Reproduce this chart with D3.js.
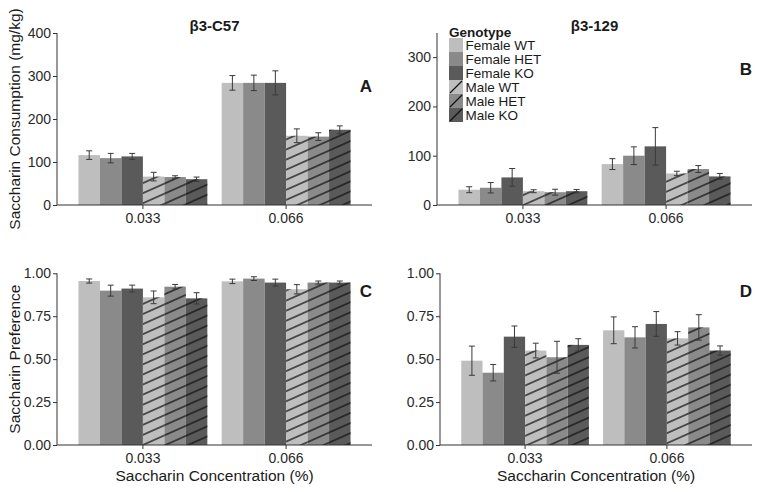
<!DOCTYPE html>
<html>
<head>
<meta charset="utf-8">
<script src="https://cdn.jsdelivr.net/npm/d3@7"></script>
<style>
  html, body { margin: 0; padding: 0; background: #fff; }
  svg { display: block; font-family: "Liberation Sans", Arial, sans-serif; }
</style>
</head>
<body>
<svg id="chart" width="762" height="492"></svg>
<script>
// ---------------- data ----------------
const concentrations = ["0.033", "0.066"];
const genotypes = ["Female WT", "Female HET", "Female KO", "Male WT", "Male HET", "Male KO"];

// Panel A: β3-C57 consumption (mg/kg) — rows: concentration, cols: genotype
const c57ConsMean = [[116, 109, 113, 66, 65, 60], [284, 284, 284, 161, 159, 175]];
const c57ConsErr  = [[10, 11, 7, 10, 3, 5], [17, 18, 28, 16, 9, 9]];
// Panel B: β3-129 consumption (mg/kg)
const b129ConsMean = [[31, 35, 56, 28, 26, 28], [83, 100, 119, 64, 73, 58]];
const b129ConsErr  = [[6, 10.5, 18, 3, 6, 3.5], [11, 18, 38, 4.5, 7, 6]];
// Panel C: β3-C57 preference
const c57PrefMean = [[0.955, 0.899, 0.911, 0.860, 0.922, 0.854], [0.953, 0.969, 0.946, 0.907, 0.946, 0.946]];
const c57PrefErr  = [[0.012, 0.032, 0.020, 0.037, 0.013, 0.033], [0.013, 0.011, 0.020, 0.027, 0.009, 0.009]];
// Panel D: β3-129 preference
const b129PrefMean = [[0.491, 0.421, 0.631, 0.550, 0.511, 0.583], [0.668, 0.627, 0.705, 0.621, 0.685, 0.550]];
const b129PrefErr  = [[0.085, 0.048, 0.062, 0.043, 0.093, 0.036], [0.078, 0.062, 0.072, 0.039, 0.074, 0.027]];

const consTicks = [0, 100, 200, 300, 400];
const consTicksB = [0, 100, 200, 300];
const prefTicks = [0, 0.25, 0.5, 0.75, 1.0];

// ---------------- styling ----------------
const fillColors = ["#bebebe", "#8a8a8a", "#5a5a5a", "#bebebe", "#8a8a8a", "#5a5a5a"];
const hatched = [false, false, false, true, true, true];
const textColor = "#1a1a1a";

const svg = d3.select("#chart");
const defs = svg.append("defs");
const pat = defs.append("pattern")
  .attr("id", "hatch")
  .attr("patternUnits", "userSpaceOnUse")
  .attr("width", 9.2).attr("height", 9.2)
  .attr("patternTransform", "rotate(-24)");
pat.append("line")
  .attr("x1", -1).attr("x2", 10.2).attr("y1", 4.6).attr("y2", 4.6)
  .attr("stroke", "#111").attr("stroke-width", 1.25);

function panel(opts) {
  const { x0, x1, y0, y1, domainMax, ticks, fmt, mean, err, title, letter, letterVal, xTitle, yTitle } = opts;
  const g = svg.append("g");
  const x = d3.scaleBand().domain(concentrations).range([x0, x1]).paddingInner(0.1).paddingOuter(0.15);
  const xi = d3.scaleBand().domain(genotypes).range([0, x.bandwidth()]).padding(0);
  const y = d3.scaleLinear().domain([0, domainMax]).range([y1, y0]);

  const data = [];
  concentrations.forEach((c, ci) => genotypes.forEach((gt, gi) => {
    data.push({ c, gt, gi, m: mean[ci][gi], e: err[ci][gi] });
  }));

  // bars
  g.selectAll("rect.bar").data(data).join("rect")
    .attr("class", "bar")
    .attr("x", d => x(d.c) + xi(d.gt))
    .attr("width", xi.bandwidth())
    .attr("y", d => y(d.m))
    .attr("height", d => y(0) - y(d.m))
    .attr("fill", d => fillColors[d.gi]);
  g.selectAll("rect.hatch").data(data.filter(d => hatched[d.gi])).join("rect")
    .attr("class", "hatch")
    .attr("x", d => x(d.c) + xi(d.gt))
    .attr("width", xi.bandwidth())
    .attr("y", d => y(d.m))
    .attr("height", d => y(0) - y(d.m))
    .attr("fill", "url(#hatch)");

  // error bars
  const cap = 3;
  const eb = g.selectAll("g.eb").data(data).join("g").attr("class", "eb")
    .attr("stroke", "#3a3a3a").attr("stroke-width", 1);
  eb.append("line")
    .attr("x1", d => x(d.c) + xi(d.gt) + xi.bandwidth() / 2)
    .attr("x2", d => x(d.c) + xi(d.gt) + xi.bandwidth() / 2)
    .attr("y1", d => y(d.m - d.e)).attr("y2", d => y(d.m + d.e));
  eb.append("line")
    .attr("x1", d => x(d.c) + xi(d.gt) + xi.bandwidth() / 2 - cap)
    .attr("x2", d => x(d.c) + xi(d.gt) + xi.bandwidth() / 2 + cap)
    .attr("y1", d => y(d.m + d.e)).attr("y2", d => y(d.m + d.e));
  eb.append("line")
    .attr("x1", d => x(d.c) + xi(d.gt) + xi.bandwidth() / 2 - cap)
    .attr("x2", d => x(d.c) + xi(d.gt) + xi.bandwidth() / 2 + cap)
    .attr("y1", d => y(d.m - d.e)).attr("y2", d => y(d.m - d.e));

  // axes
  const yAxis = g.append("g").attr("transform", `translate(${x0},0)`)
    .call(d3.axisLeft(y).tickValues(ticks).tickFormat(fmt).tickSize(4).tickPadding(2).tickSizeOuter(0));
  const xAxis = g.append("g").attr("transform", `translate(0,${y1})`)
    .call(d3.axisBottom(x).tickSize(4).tickPadding(4.4).tickSizeOuter(0));
  [yAxis, xAxis].forEach(a => {
    a.select(".domain").attr("stroke", "#333").attr("stroke-width", 1);
    a.selectAll(".tick line").attr("stroke", "#333");
    a.selectAll(".tick text").attr("fill", "#2a2a2a").style("font-size", "14px")
      .style("font-family", "'Liberation Sans', Arial, sans-serif");
  });
  xAxis.select(".domain").attr("d", `M${x0},0H${x1}`);
  yAxis.select(".domain").attr("d", `M0,${y(0)}V${y0}`);

  if (title) {
    g.append("text").attr("x", (x0 + x1) / 2).attr("y", 31)
      .attr("text-anchor", "middle").attr("font-weight", "bold").attr("font-size", 15)
      .attr("fill", textColor).text(title);
  }
  g.append("text").attr("x", x1).attr("y", y(letterVal))
    .attr("text-anchor", "end").attr("font-weight", "bold").attr("font-size", 17)
    .attr("fill", textColor).text(letter);
  if (xTitle) {
    g.append("text").attr("x", (x0 + x1) / 2).attr("y", 481)
      .attr("text-anchor", "middle").attr("font-size", 15.5)
      .attr("fill", textColor).text(xTitle);
  }
  if (yTitle) {
    g.append("text").attr("transform", `translate(20,${(y0 + y1) / 2}) rotate(-90)`)
      .attr("text-anchor", "middle").attr("font-size", 15.5)
      .attr("fill", textColor).text(yTitle);
  }
  return { x, y };
}

panel({ x0: 57, x1: 372, y0: 33, y1: 205, domainMax: 400, ticks: consTicks, fmt: d3.format("d"),
  mean: c57ConsMean, err: c57ConsErr, title: "β3-C57", letter: "A", letterVal: 263,
  yTitle: "Saccharin Consumption (mg/kg)" });
panel({ x0: 437, x1: 752, y0: 33, y1: 205, domainMax: 349, ticks: consTicksB, fmt: d3.format("d"),
  mean: b129ConsMean, err: b129ConsErr, title: "β3-129", letter: "B", letterVal: 263 });
panel({ x0: 57, x1: 372, y0: 273.3, y1: 445, domainMax: 1, ticks: prefTicks, fmt: d3.format(".2f"),
  mean: c57PrefMean, err: c57PrefErr, letter: "C", letterVal: 0.86,
  xTitle: "Saccharin Concentration (%)", yTitle: "Saccharin Preference" });
panel({ x0: 440, x1: 752, y0: 273.3, y1: 445, domainMax: 1, ticks: prefTicks, fmt: d3.format(".2f"),
  mean: b129PrefMean, err: b129PrefErr, letter: "D", letterVal: 0.86,
  xTitle: "Saccharin Concentration (%)" });

// ---------------- legend ----------------
const lg = svg.append("g").attr("transform", "translate(449,38)");
lg.append("text").attr("x", 0).attr("y", -1.5).attr("font-weight", "bold").attr("font-size", 13.5)
  .attr("fill", textColor).text("Genotype");
const rowH = 14, keyW = 14;
const rows = lg.selectAll("g.row").data(genotypes).join("g").attr("class", "row")
  .attr("transform", (d, i) => `translate(0,${i * rowH})`);
rows.append("rect").attr("width", keyW).attr("height", rowH)
  .attr("fill", (d, i) => fillColors[i]);
rows.filter((d, i) => hatched[i]).append("line")
  .attr("x1", 1).attr("y1", rowH - 1).attr("x2", keyW - 1).attr("y2", 1)
  .attr("stroke", "#111").attr("stroke-width", 1.3);
rows.append("text").attr("x", keyW + 2.5).attr("y", rowH / 2).attr("dy", "0.36em")
  .attr("font-size", 13.5).attr("fill", textColor).text(d => d);
</script>
</body>
</html>
